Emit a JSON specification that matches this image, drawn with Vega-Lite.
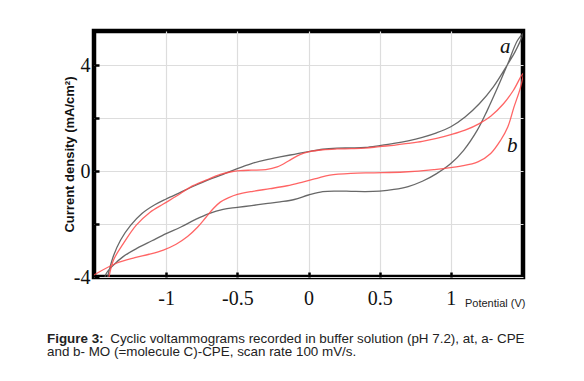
{
  "$schema": "https://vega.github.io/schema/vega-lite/v6.json",
  "width": 429,
  "height": 246,
  "autosize": {"type": "none"},
  "padding": {"left": 94, "top": 31, "right": 61, "bottom": 104},
  "background": "white",
  "config": {
    "view": {"stroke": "black", "strokeWidth": 4.5},
    "axis": {
      "domain": false,
      "gridColor": "#dddddd",
      "gridWidth": 1.2,
      "tickColor": "black",
      "tickSize": -5,
      "tickWidth": 2.5,
      "labelFont": "Liberation Serif",
      "labelFontSize": 20,
      "labelColor": "#111111"
    }
  },
  "title": {
    "text": "Figure 3:",
    "subtitle": ["\u200b\u00a0\u00a0\u00a0\u00a0\u00a0\u00a0\u00a0\u00a0\u00a0\u00a0\u00a0\u00a0\u00a0\u00a0\u00a0\u00a0\u00a0Cyclic voltammograms recorded in buffer solution (pH 7.2), at, a- CPE", "and b- MO (=molecule C)-CPE, scan rate 100 mV/s."],
    "orient": "bottom",
    "anchor": "start",
    "frame": "group",
    "dx": -47,
    "offset": 24,
    "font": "Liberation Sans",
    "fontSize": 13.4,
    "fontWeight": "bold",
    "color": "#222222",
    "subtitleFont": "Liberation Sans",
    "subtitleFontSize": 13.4,
    "subtitleFontWeight": "normal",
    "subtitleColor": "#222222",
    "subtitleLineHeight": 13.4,
    "subtitlePadding": -13.4
  },
  "datasets": {
    "curves": [
      {"s": "a", "i": 0, "x": -1.44, "y": -4.6},
      {"s": "a", "i": 1, "x": -1.41, "y": -3.95},
      {"s": "a", "i": 2, "x": -1.37, "y": -3.2},
      {"s": "a", "i": 3, "x": -1.32, "y": -2.6},
      {"s": "a", "i": 4, "x": -1.25, "y": -2.05},
      {"s": "a", "i": 5, "x": -1.17, "y": -1.6},
      {"s": "a", "i": 6, "x": -1.08, "y": -1.27},
      {"s": "a", "i": 7, "x": -1.0, "y": -1.05},
      {"s": "a", "i": 8, "x": -0.9, "y": -0.8},
      {"s": "a", "i": 9, "x": -0.8, "y": -0.55},
      {"s": "a", "i": 10, "x": -0.7, "y": -0.32},
      {"s": "a", "i": 11, "x": -0.6, "y": -0.12},
      {"s": "a", "i": 12, "x": -0.5, "y": 0.1},
      {"s": "a", "i": 13, "x": -0.4, "y": 0.29},
      {"s": "a", "i": 14, "x": -0.3, "y": 0.43},
      {"s": "a", "i": 15, "x": -0.2, "y": 0.54},
      {"s": "a", "i": 16, "x": -0.1, "y": 0.64},
      {"s": "a", "i": 17, "x": 0.0, "y": 0.74},
      {"s": "a", "i": 18, "x": 0.1, "y": 0.83},
      {"s": "a", "i": 19, "x": 0.2, "y": 0.87},
      {"s": "a", "i": 20, "x": 0.3, "y": 0.88},
      {"s": "a", "i": 21, "x": 0.4, "y": 0.9},
      {"s": "a", "i": 22, "x": 0.5, "y": 0.97},
      {"s": "a", "i": 23, "x": 0.6, "y": 1.05},
      {"s": "a", "i": 24, "x": 0.7, "y": 1.15},
      {"s": "a", "i": 25, "x": 0.8, "y": 1.28},
      {"s": "a", "i": 26, "x": 0.9, "y": 1.45},
      {"s": "a", "i": 27, "x": 1.0, "y": 1.68},
      {"s": "a", "i": 28, "x": 1.1, "y": 2.05},
      {"s": "a", "i": 29, "x": 1.2, "y": 2.55},
      {"s": "a", "i": 30, "x": 1.3, "y": 3.2},
      {"s": "a", "i": 31, "x": 1.4, "y": 4.05},
      {"s": "a", "i": 32, "x": 1.45, "y": 4.5},
      {"s": "a", "i": 33, "x": 1.507, "y": 5.2},
      {"s": "a", "i": 34, "x": 1.468, "y": 4.94},
      {"s": "a", "i": 35, "x": 1.4, "y": 4.06},
      {"s": "a", "i": 36, "x": 1.33, "y": 3.18},
      {"s": "a", "i": 37, "x": 1.256, "y": 2.3},
      {"s": "a", "i": 38, "x": 1.186, "y": 1.55},
      {"s": "a", "i": 39, "x": 1.09, "y": 0.79},
      {"s": "a", "i": 40, "x": 1.0, "y": 0.29},
      {"s": "a", "i": 41, "x": 0.9, "y": -0.09},
      {"s": "a", "i": 42, "x": 0.8, "y": -0.38},
      {"s": "a", "i": 43, "x": 0.7, "y": -0.58},
      {"s": "a", "i": 44, "x": 0.6, "y": -0.69},
      {"s": "a", "i": 45, "x": 0.5, "y": -0.75},
      {"s": "a", "i": 46, "x": 0.4, "y": -0.77},
      {"s": "a", "i": 47, "x": 0.3, "y": -0.76},
      {"s": "a", "i": 48, "x": 0.2, "y": -0.75},
      {"s": "a", "i": 49, "x": 0.1, "y": -0.77},
      {"s": "a", "i": 50, "x": 0.0, "y": -0.9},
      {"s": "a", "i": 51, "x": -0.1, "y": -1.07},
      {"s": "a", "i": 52, "x": -0.2, "y": -1.16},
      {"s": "a", "i": 53, "x": -0.3, "y": -1.23},
      {"s": "a", "i": 54, "x": -0.4, "y": -1.3},
      {"s": "a", "i": 55, "x": -0.5, "y": -1.37},
      {"s": "a", "i": 56, "x": -0.6, "y": -1.44},
      {"s": "a", "i": 57, "x": -0.7, "y": -1.6},
      {"s": "a", "i": 58, "x": -0.8, "y": -1.84},
      {"s": "a", "i": 59, "x": -0.9, "y": -2.12},
      {"s": "a", "i": 60, "x": -1.0, "y": -2.36},
      {"s": "a", "i": 61, "x": -1.1, "y": -2.63},
      {"s": "a", "i": 62, "x": -1.2, "y": -2.9},
      {"s": "a", "i": 63, "x": -1.3, "y": -3.22},
      {"s": "a", "i": 64, "x": -1.37, "y": -3.55},
      {"s": "a", "i": 65, "x": -1.42, "y": -3.86},
      {"s": "a", "i": 66, "x": -1.45, "y": -4.6},
      {"s": "b", "i": 0, "x": -1.425, "y": -4.6},
      {"s": "b", "i": 1, "x": -1.41, "y": -4.2},
      {"s": "b", "i": 2, "x": -1.37, "y": -3.36},
      {"s": "b", "i": 3, "x": -1.3, "y": -2.73},
      {"s": "b", "i": 4, "x": -1.21, "y": -2.04},
      {"s": "b", "i": 5, "x": -1.115, "y": -1.56},
      {"s": "b", "i": 6, "x": -1.02, "y": -1.24},
      {"s": "b", "i": 7, "x": -0.93, "y": -0.95},
      {"s": "b", "i": 8, "x": -0.83, "y": -0.6},
      {"s": "b", "i": 9, "x": -0.72, "y": -0.34},
      {"s": "b", "i": 10, "x": -0.62, "y": -0.12},
      {"s": "b", "i": 11, "x": -0.55, "y": -0.03},
      {"s": "b", "i": 12, "x": -0.48, "y": 0.02},
      {"s": "b", "i": 13, "x": -0.4, "y": 0.04},
      {"s": "b", "i": 14, "x": -0.3, "y": 0.06},
      {"s": "b", "i": 15, "x": -0.22, "y": 0.16},
      {"s": "b", "i": 16, "x": -0.13, "y": 0.42},
      {"s": "b", "i": 17, "x": -0.06, "y": 0.63},
      {"s": "b", "i": 18, "x": 0.0, "y": 0.73},
      {"s": "b", "i": 19, "x": 0.1, "y": 0.81},
      {"s": "b", "i": 20, "x": 0.2, "y": 0.84},
      {"s": "b", "i": 21, "x": 0.3, "y": 0.85},
      {"s": "b", "i": 22, "x": 0.4, "y": 0.87},
      {"s": "b", "i": 23, "x": 0.5, "y": 0.93},
      {"s": "b", "i": 24, "x": 0.6, "y": 0.98},
      {"s": "b", "i": 25, "x": 0.7, "y": 1.05},
      {"s": "b", "i": 26, "x": 0.8, "y": 1.13},
      {"s": "b", "i": 27, "x": 0.9, "y": 1.24},
      {"s": "b", "i": 28, "x": 1.0, "y": 1.38},
      {"s": "b", "i": 29, "x": 1.1, "y": 1.55},
      {"s": "b", "i": 30, "x": 1.2, "y": 1.8},
      {"s": "b", "i": 31, "x": 1.28, "y": 2.08},
      {"s": "b", "i": 32, "x": 1.37, "y": 2.55},
      {"s": "b", "i": 33, "x": 1.44, "y": 3.06},
      {"s": "b", "i": 34, "x": 1.507, "y": 3.7},
      {"s": "b", "i": 35, "x": 1.49, "y": 3.18},
      {"s": "b", "i": 36, "x": 1.444, "y": 2.43},
      {"s": "b", "i": 37, "x": 1.4, "y": 1.67},
      {"s": "b", "i": 38, "x": 1.35, "y": 1.17},
      {"s": "b", "i": 39, "x": 1.28, "y": 0.67},
      {"s": "b", "i": 40, "x": 1.19, "y": 0.35},
      {"s": "b", "i": 41, "x": 1.07, "y": 0.19},
      {"s": "b", "i": 42, "x": 0.88, "y": 0.06},
      {"s": "b", "i": 43, "x": 0.67, "y": -0.03},
      {"s": "b", "i": 44, "x": 0.46, "y": -0.06},
      {"s": "b", "i": 45, "x": 0.3, "y": -0.08},
      {"s": "b", "i": 46, "x": 0.15, "y": -0.15},
      {"s": "b", "i": 47, "x": 0.06, "y": -0.27},
      {"s": "b", "i": 48, "x": -0.035, "y": -0.4},
      {"s": "b", "i": 49, "x": -0.15, "y": -0.55},
      {"s": "b", "i": 50, "x": -0.27, "y": -0.66},
      {"s": "b", "i": 51, "x": -0.39, "y": -0.76},
      {"s": "b", "i": 52, "x": -0.5, "y": -0.88},
      {"s": "b", "i": 53, "x": -0.56, "y": -1.0},
      {"s": "b", "i": 54, "x": -0.62, "y": -1.17},
      {"s": "b", "i": 55, "x": -0.67, "y": -1.42},
      {"s": "b", "i": 56, "x": -0.72, "y": -1.74},
      {"s": "b", "i": 57, "x": -0.78, "y": -2.12},
      {"s": "b", "i": 58, "x": -0.85, "y": -2.47},
      {"s": "b", "i": 59, "x": -0.93, "y": -2.76},
      {"s": "b", "i": 60, "x": -1.02, "y": -2.98},
      {"s": "b", "i": 61, "x": -1.12, "y": -3.14},
      {"s": "b", "i": 62, "x": -1.22, "y": -3.27},
      {"s": "b", "i": 63, "x": -1.35, "y": -3.48},
      {"s": "b", "i": 64, "x": -1.507, "y": -3.92}
    ],
    "labels": [
      {"s": "a", "x": 1.382, "y": 4.68},
      {"s": "b", "x": 1.431, "y": 0.94}
    ]
  },
  "layer": [
    {
      "data": {"name": "curves"},
      "mark": {"type": "line", "clip": true, "strokeWidth": 1.3, "opacity": 0.85, "interpolate": "catmull-rom"},
      "encoding": {
        "x": {
          "field": "x", "type": "quantitative",
          "scale": {"domain": [-1.507, 1.507], "nice": false, "zero": false},
          "axis": {
            "values": [-1, -0.5, 0, 0.5, 1],
            "labelExpr": "'' + datum.value",
            "labelPadding": 16,
            "title": "Potential (V)",
            "titleFont": "Liberation Sans",
            "titleFontSize": 11,
            "titleFontWeight": "normal",
            "titleColor": "#222222",
            "titleX": 431,
            "titleY": 29,
            "titleAlign": "right",
            "titleBaseline": "alphabetic"
          }
        },
        "y": {
          "field": "y", "type": "quantitative",
          "scale": {"domain": [-4, 5.3], "nice": false, "zero": false},
          "axis": {
            "values": [-4, -2, 0, 2, 4],
            "labelExpr": "datum.value == 4 ? '4' : datum.value == 0 ? '0' : datum.value == -4 ? '-4' : ''",
            "labelPadding": 9,
            "title": "Current density (mA/cm²)",
            "titleFont": "Liberation Sans",
            "titleFontSize": 13,
            "titleFontWeight": "bold",
            "titleColor": "#111111",
            "titleX": -25,
            "titleY": 123,
            "titleAngle": -90,
            "titleAlign": "center",
            "titleBaseline": "middle"
          }
        },
        "color": {
          "field": "s", "type": "nominal",
          "scale": {"domain": ["a", "b"], "range": ["#4d4d4d", "#ff4a4a"]},
          "legend": null
        },
        "order": {"field": "i", "type": "quantitative"}
      }
    },
    {
      "data": {"name": "labels"},
      "mark": {"type": "text", "font": "Liberation Serif", "fontStyle": "italic", "fontSize": 21, "color": "#111111", "baseline": "middle", "align": "center"},
      "encoding": {
        "x": {"field": "x", "type": "quantitative"},
        "y": {"field": "y", "type": "quantitative"},
        "text": {"field": "s"}
      }
    }
  ]
}
